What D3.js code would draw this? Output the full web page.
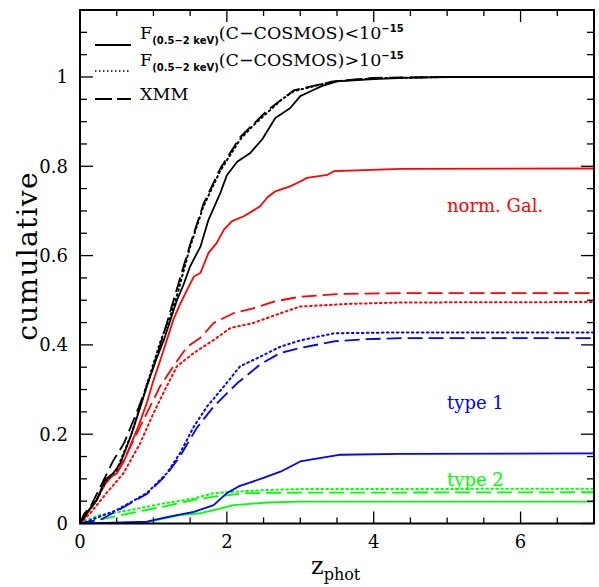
<!DOCTYPE html>
<html><head><meta charset="utf-8">
<script src="https://cdn.jsdelivr.net/npm/d3@7"></script>
<style>body{margin:0;background:#fff}svg{display:block}</style>
</head><body>
<svg id="c" width="599" height="587"></svg>
<script>
// ---- data: cumulative fraction vs z_phot ----
const allSolid  = [[0,0],[0.05,0.012],[0.12,0.03],[0.23,0.053],[0.34,0.098],[0.45,0.112],[0.55,0.135],[0.69,0.195],[0.8,0.25],[0.91,0.307],[1.02,0.36],[1.14,0.41],[1.23,0.455],[1.32,0.5],[1.41,0.535],[1.5,0.576],[1.64,0.62],[1.75,0.68],[1.91,0.74],[2.0,0.78],[2.14,0.81],[2.32,0.83],[2.48,0.86],[2.66,0.908],[2.86,0.93],[3.0,0.957],[3.14,0.968],[3.3,0.98],[3.5,0.99],[4.0,0.995],[4.4,0.998],[5,1.0],[7,1.0]];
const allDotted = [[0,0],[0.05,0.015],[0.15,0.035],[0.25,0.06],[0.35,0.095],[0.5,0.12],[0.7,0.2],[0.91,0.31],[1.1,0.41],[1.22,0.46],[1.32,0.51],[1.5,0.62],[1.68,0.71],[1.91,0.79],[2.18,0.86],[2.35,0.89],[2.55,0.92],[2.75,0.95],[2.91,0.968],[3.2,0.98],[3.45,0.99],[4,0.997],[5,1.0],[7,1.0]];
const allDashed = [[0,0],[0.05,0.02],[0.15,0.04],[0.3,0.09],[0.45,0.14],[0.6,0.18],[0.8,0.26],[1.0,0.35],[1.15,0.43],[1.3,0.515],[1.5,0.625],[1.68,0.715],[1.91,0.795],[2.18,0.865],[2.55,0.925],[2.91,0.97],[3.45,0.99],[4,0.998],[5,1],[7,1]];
const galSolid  = [[0,0],[0.07,0.015],[0.15,0.035],[0.23,0.053],[0.36,0.098],[0.5,0.112],[0.6,0.14],[0.68,0.172],[0.8,0.22],[0.91,0.27],[1.0,0.32],[1.11,0.374],[1.2,0.42],[1.27,0.456],[1.36,0.49],[1.46,0.524],[1.55,0.553],[1.64,0.561],[1.75,0.606],[1.86,0.628],[1.96,0.658],[2.07,0.677],[2.23,0.688],[2.45,0.71],[2.55,0.73],[2.66,0.744],[2.86,0.755],[3.0,0.766],[3.09,0.774],[3.37,0.781],[3.46,0.789],[4.37,0.794],[7,0.795]];
const galDashed = [[0,0],[0.05,0.015],[0.2,0.045],[0.35,0.09],[0.55,0.127],[0.73,0.187],[0.91,0.247],[1.09,0.307],[1.27,0.352],[1.46,0.396],[1.64,0.416],[1.82,0.449],[2.09,0.471],[2.36,0.482],[2.64,0.497],[3.0,0.508],[3.55,0.514],[4.37,0.516],[7,0.516]];
const galDotted = [[0,0],[0.14,0.023],[0.36,0.068],[0.59,0.112],[0.82,0.18],[1.0,0.247],[1.18,0.307],[1.32,0.352],[1.55,0.382],[1.82,0.411],[2.05,0.438],[2.36,0.449],[2.73,0.471],[3.0,0.486],[3.68,0.492],[4.37,0.495],[7,0.496]];
const t1Dotted  = [[0,0],[0.09,0.004],[0.5,0.03],[0.91,0.068],[1.18,0.112],[1.36,0.157],[1.55,0.217],[1.73,0.262],[1.96,0.307],[2.18,0.352],[2.46,0.374],[2.73,0.396],[3.0,0.41],[3.46,0.426],[4.37,0.428],[7,0.428]];
const t1Dashed  = [[0,0],[0.3,0.01],[0.5,0.028],[0.91,0.066],[1.18,0.11],[1.36,0.15],[1.59,0.214],[1.82,0.262],[2.14,0.314],[2.46,0.357],[2.73,0.382],[3.0,0.393],[3.46,0.408],[3.91,0.413],[4.37,0.415],[7,0.415]];
const t1Solid   = [[0,0],[0.5,0.002],[0.91,0.004],[1.2,0.015],[1.55,0.026],[1.82,0.041],[2.0,0.068],[2.16,0.083],[2.46,0.1],[2.73,0.116],[3.0,0.139],[3.18,0.144],[3.55,0.154],[4.37,0.156],[7,0.157]];
const t2Dotted  = [[0,0.002],[0.27,0.019],[0.68,0.03],[1.14,0.045],[1.55,0.056],[1.82,0.068],[2.09,0.071],[2.55,0.075],[3.0,0.077],[7,0.078]];
const t2Dashed  = [[0,0],[0.45,0.015],[1.14,0.038],[1.55,0.053],[1.82,0.06],[2.27,0.068],[3.0,0.069],[7,0.070]];
const t2Solid   = [[0,0],[0.91,0.003],[1.36,0.019],[1.64,0.023],[1.82,0.03],[2.09,0.041],[2.55,0.047],[3.0,0.049],[7,0.049]];

const xTicks = [0,2,4,6];
const yTicks = [0,0.2,0.4,0.6,0.8,1];
const yTickLabels = ["0","0.2","0.4","0.6","0.8","1"];

const series = [
  {d:t2Dashed, c:"#00ff00", s:"dash"}, {d:t2Dotted, c:"#00ff00", s:"dot"}, {d:t2Solid, c:"#00ff00", s:"solid"},
  {d:t1Dashed, c:"#0000ff", s:"dash"}, {d:t1Dotted, c:"#0000ff", s:"dot"}, {d:t1Solid, c:"#0000ff", s:"solid"},
  {d:galDashed, c:"#ff0000", s:"dash"}, {d:galDotted, c:"#ff0000", s:"dot"}, {d:galSolid, c:"#ff0000", s:"solid"},
  {d:allDashed, c:"#000000", s:"dash"}, {d:allDotted, c:"#000000", s:"dot"}, {d:allSolid, c:"#000000", s:"solid"}
];
const dashes = {solid:null, dot:"1.6,3.4", dash:"15,6"};

const L=80, R=594, T=10, B=523.5;
const x = d3.scaleLinear().domain([0,7]).range([L,R]);
const y = d3.scaleLinear().domain([0,1.15]).range([B,T]);
const svg = d3.select("#c");
const serif = "DejaVu Serif";

const line = d3.line().x(d=>x(d[0])).y(d=>y(d[1]));
svg.append("defs").append("clipPath").attr("id","cp").append("rect")
  .attr("x",L).attr("y",T).attr("width",R-L).attr("height",B-T);
const g = svg.append("g").attr("clip-path","url(#cp)");
series.forEach(s=>{
  g.append("path").attr("d",line(s.d)).attr("fill","none").attr("stroke",s.c)
   .attr("stroke-width",s.s==="dot"?2:1.8).attr("stroke-dasharray",dashes[s.s])
   .attr("stroke-linecap",s.s==="dot"?"round":"butt").attr("stroke-linejoin","round");
});

// axes with inward ticks on all sides
const minorX = d3.range(0,7.01,0.5);
const minorY = d3.range(0,1.151,0.05);
const ax = svg.append("g").attr("stroke","#000").attr("stroke-width",1.3);
minorX.forEach(v=>{
  const major = Math.abs(v/2-Math.round(v/2))<1e-6;
  const len = major?12:6;
  ax.append("line").attr("x1",x(v)).attr("x2",x(v)).attr("y1",B).attr("y2",B-len);
  ax.append("line").attr("x1",x(v)).attr("x2",x(v)).attr("y1",T).attr("y2",T+len);
});
minorY.forEach(v=>{
  const major = Math.abs(v/0.2-Math.round(v/0.2))<1e-6;
  const len = major?13:7;
  ax.append("line").attr("y1",y(v)).attr("y2",y(v)).attr("x1",L).attr("x2",L+len);
  ax.append("line").attr("y1",y(v)).attr("y2",y(v)).attr("x1",R).attr("x2",R-len);
});
svg.append("rect").attr("x",L).attr("y",T).attr("width",R-L).attr("height",B-T)
  .attr("fill","none").attr("stroke","#000").attr("stroke-width",2);

xTicks.forEach(v=>{
  svg.append("text").attr("x",x(v)).attr("y",548).attr("text-anchor","middle")
    .attr("font-family",serif).attr("font-size",18).text(String(v));
});
yTicks.forEach((v,i)=>{
  svg.append("text").attr("x",68).attr("y",y(v)+6.5).attr("text-anchor","end")
    .attr("font-family",serif).attr("font-size",18).text(yTickLabels[i]);
});

// axis titles
svg.append("text").attr("transform","translate(37,256) rotate(-90)").attr("text-anchor","middle")
  .attr("font-family",serif).attr("font-size",28).attr("letter-spacing",1.3).text("cumulative");
const xl = svg.append("text").attr("x",311).attr("y",574).attr("font-family",serif).attr("font-size",24);
xl.append("tspan").text("z");
xl.append("tspan").attr("dy",6).attr("font-size",16).text("phot");

// legend
const leg = [
  {s:"solid", y:45, ty:39, op:"<"},
  {s:"dot", y:71, ty:66, op:">"},
  {s:"dash", y:99, ty:100, op:null}
];
leg.forEach(l=>{
  svg.append("line").attr("x1",95).attr("x2",131).attr("y1",l.y).attr("y2",l.y)
    .attr("stroke","#000").attr("stroke-width",l.s==="dot"?1.6:1.8).attr("stroke-dasharray",l.s==="dash"?"17,5":(l.s==="dot"?"1.5,2.5":null));
  const t = svg.append("text").attr("x",140).attr("y",l.ty).attr("font-family",serif).attr("font-size",17.5);
  if(l.op){
    t.append("tspan").text("F");
    t.append("tspan").attr("dy",5).attr("font-family","DejaVu Sans").attr("font-weight","bold").attr("font-size",10).text("(0.5\u22122 keV)");
    t.append("tspan").attr("dy",-5).text("(C\u2212COSMOS)"+l.op+"10");
    t.append("tspan").attr("dy",-7).attr("font-family","DejaVu Sans").attr("font-weight","bold").attr("font-size",10).text("\u221215");
  } else {
    t.text("XMM");
  }
});

// class labels
svg.append("text").attr("x",447).attr("y",212).attr("font-family",serif).attr("font-size",18).attr("fill","#ff0000").text("norm. Gal.");
svg.append("text").attr("x",447).attr("y",409).attr("font-family",serif).attr("font-size",18).attr("fill","#0000ff").text("type 1");
svg.append("text").attr("x",447).attr("y",486).attr("font-family",serif).attr("font-size",18).attr("fill","#00ff00").text("type 2");
</script>
</body></html>
